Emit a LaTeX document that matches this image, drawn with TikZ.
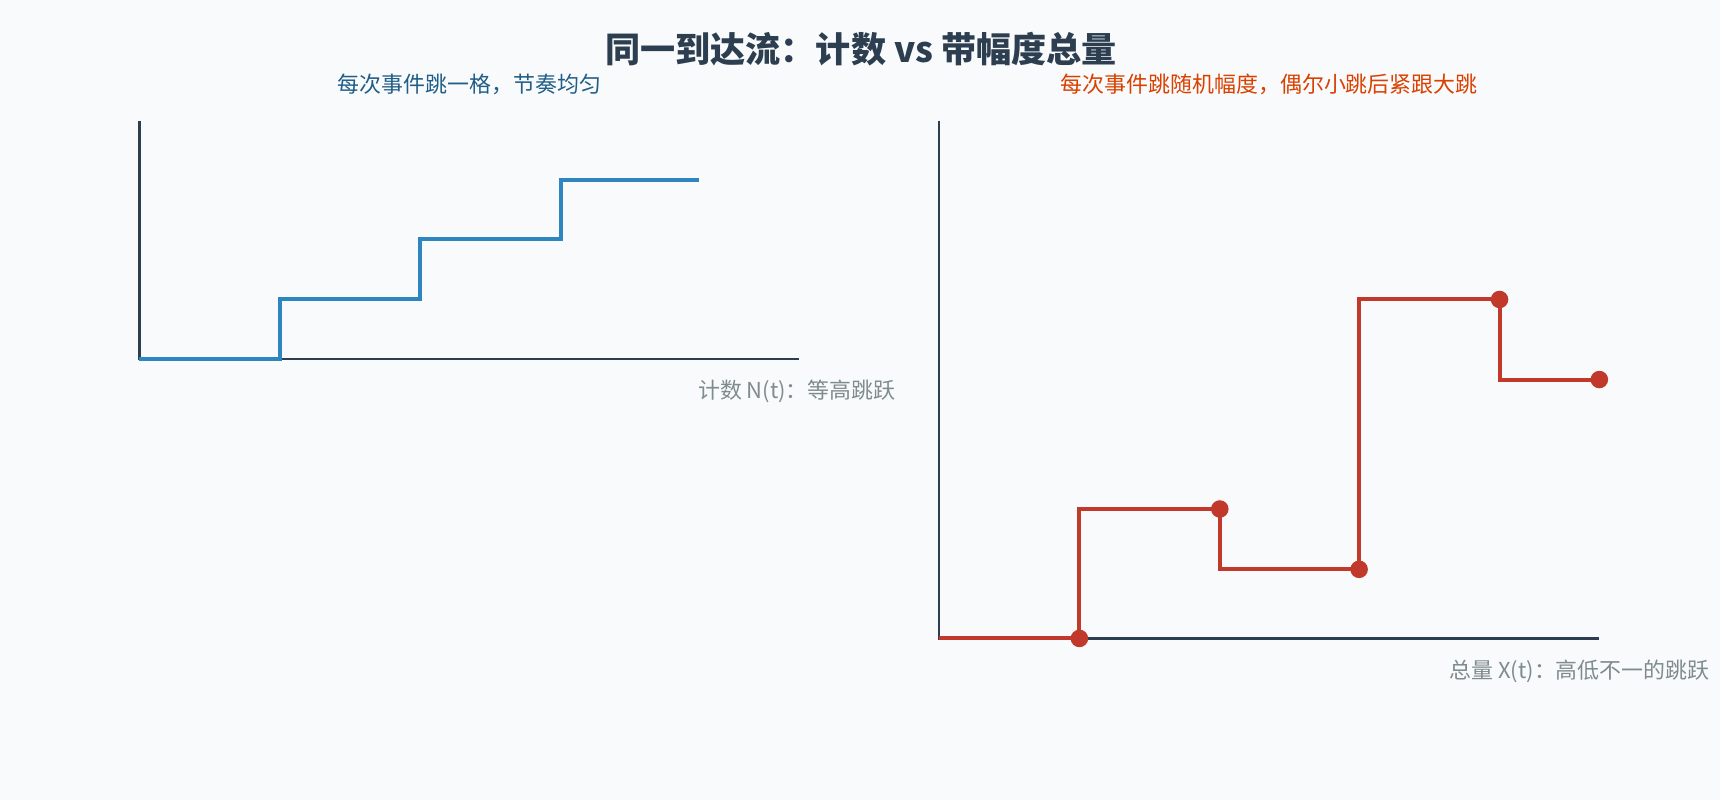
\documentclass[tikz,border=0pt]{standalone}
\usepackage{fontspec}
\setmainfont{Noto Sans CJK SC}
\begin{document}
\begin{tikzpicture}[x=1pt,y=-1pt,
 axis/.style={draw=axc,line width=2.2pt},
 blue/.style={draw=bluec,line width=3.6pt},
 red/.style={draw=redc,line width=3.6pt},
 dot/.style={circle,fill=redc,inner sep=0,minimum size=16pt},
 lab/.style={text=grayc,font=\fontsize{20}{24}\selectfont,anchor=east}]
\definecolor{axc}{HTML}{2C3E50}\definecolor{bluec}{HTML}{2E86C1}
\definecolor{redc}{HTML}{C0392B}\definecolor{grayc}{HTML}{7F8C8D}
\definecolor{bg}{HTML}{F9FAFC}
\fill[bg] (0,0) rectangle (1568,729);
\useasboundingbox (0,0) rectangle (1568,729);
\node[font=\fontsize{32}{38}\selectfont\bfseries,text=axc] (title) at (785,45) {同一到达流：计数 vs 带幅度总量};
\node[font=\fontsize{20}{24}\selectfont,text=bluec!70!black] (st1) at (428,77) {每次事件跳一格，节奏均匀};
\node[font=\fontsize{20}{24}\selectfont,text=orange!60!red!85!black] (st2) at (1157,77) {每次事件跳随机幅度，偶尔小跳后紧跟大跳};
% left
\coordinate (o1) at (127,327);
\draw[axis] (127,110) -- (o1) -- (728,327);
\draw[blue] (o1) -- (255,327) -- (255,273) -- (383,273) -- (383,218) -- (511,218) -- (511,164) -- (637,164);
\node[lab] (l1) at (820,357) {计数 N(t)：等高跳跃};
% right
\coordinate (o2) at (856,582);
\draw[axis] (856,110) -- (o2) -- (1458,582);
\node[dot] (d1) at (984,582) {};
\node[dot] (d2) at (1112,464) {};
\node[dot] (d3) at (1239,519) {};
\node[dot] (d4) at (1367,273) {};
\node[dot] (d5) at (1458,346) {};
\draw[red] (o2) -- (d1.center) |- (d2.center) |- (d3.center) |- (d4.center) |- (d5.center);
\node[lab] (l2) at (1562,612) {总量 X(t)：高低不一的跳跃};
\end{tikzpicture}
\end{document}
